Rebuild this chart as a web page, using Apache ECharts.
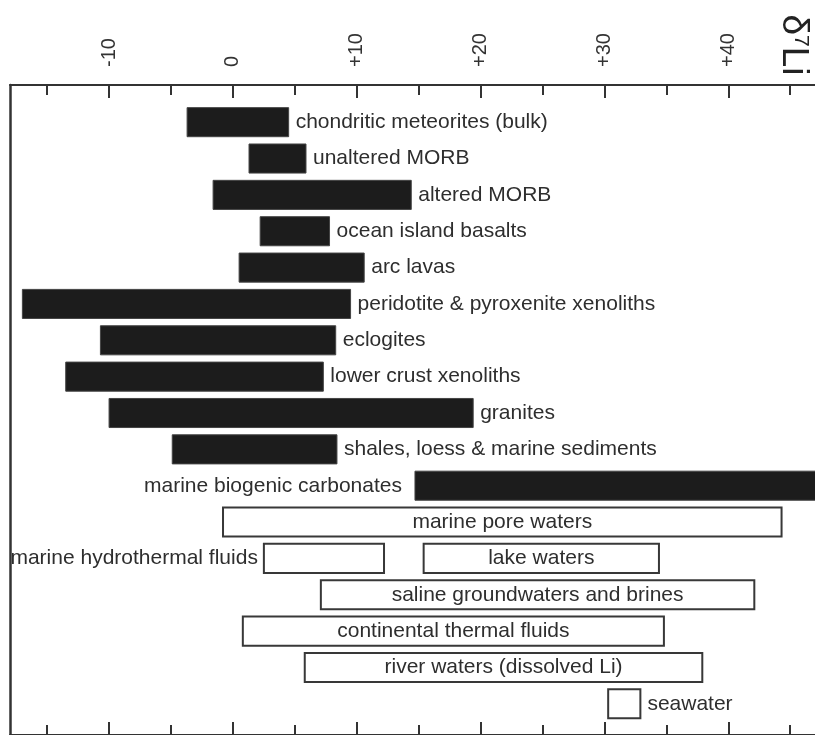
<!DOCTYPE html>
<html>
<head>
<meta charset="utf-8">
<script src="https://cdn.jsdelivr.net/npm/echarts@6/dist/echarts.min.js"></script>
<style>
  html, body { margin: 0; padding: 0; background: #fff; }
  #chart { width: 815px; height: 735px; }
</style>
</head>
<body>
<div id="chart"></div>
<script>
// delta7Li ranges of reservoirs
const labels = ['chondritic meteorites (bulk)', 'unaltered MORB', 'altered MORB', 'ocean island basalts',
    'arc lavas', 'peridotite & pyroxenite xenoliths', 'eclogites', 'lower crust xenoliths', 'granites',
    'shales, loess & marine sediments', 'marine biogenic carbonates', 'marine pore waters',
    'marine hydrothermal fluids', 'lake waters', 'saline groundwaters and brines',
    'continental thermal fluids', 'river waters (dissolved Li)', 'seawater']
const rowIndex = [0, 1, 2, 3, 4, 5, 6, 7, 8, 9, 10, 11, 12, 12, 13, 14, 15, 16]
const lowValues = [-3.7, 1.3, -1.6, 2.2, 0.5, -17.0, -10.7, -13.5, -10.0, -4.9, 14.7, -0.8, 2.5, 15.4, 7.1, 0.8, 5.8, 30.3]
const highValues = [4.5, 5.9, 14.4, 7.8, 10.6, 9.5, 8.3, 7.3, 19.4, 8.4, 50, 44.3, 12.2, 34.4, 42.1, 34.8, 37.9, 32.9]
const solid = [1, 1, 1, 1, 1, 1, 1, 1, 1, 1, 1, 0, 0, 0, 0, 0, 0, 0]
const labelSide = ['right', 'right', 'right', 'right', 'right', 'right', 'right', 'right', 'right', 'right',
    'left', 'inside', 'left', 'inside', 'inside', 'inside', 'inside', 'right']
const rowCount = 17
const majorTicks = [-10, 0, 10, 20, 30, 40]
const minorTicks = [-15, -5, 5, 15, 25, 35, 45]

const FONT = '"Liberation Sans", Arial, Helvetica, sans-serif'
const xMin = -18, xMax = 47

var chart = echarts.init(document.getElementById('chart'))

function frameAxis(grid, pos, ticks, len, withLabels, showLine) {
    return {
        type: 'value', gridIndex: grid, position: pos, min: xMin, max: xMax,
        axisLine: { show: showLine, onZero: false, lineStyle: { color: '#333', width: 2 } },
        axisTick: { show: true, inside: true, length: len, customValues: ticks, lineStyle: { color: '#333', width: 2 } },
        axisLabel: {
            show: withLabels, customValues: ticks, rotate: -90, margin: 18,
            fontFamily: FONT, fontSize: 20, color: '#333',
            formatter: v => v > 0 ? '+' + v : String(v)
        },
        splitLine: { show: false }
    }
}

function renderItem(params, api) {
    var i = params.dataIndex
    var row = api.value(0)
    var p0 = api.coord([api.value(1), row])
    var p1 = api.coord([api.value(2), row])
    var h = api.size([0, 1])[1] * 0.8
    var isSolid = solid[i] === 1
    var side = labelSide[i]
    var tx, align
    if (side === 'right') { tx = p1[0] + 7; align = 'left' }
    else if (side === 'left') { tx = p0[0] - (i === 10 ? 13 : 6); align = 'right' }
    else { tx = (p0[0] + p1[0]) / 2; align = 'center' }
    return {
        type: 'group',
        children: [{
            type: 'rect',
            shape: { x: p0[0], y: p0[1] - h / 2, width: p1[0] - p0[0], height: h },
            style: isSolid
                ? { fill: '#1c1c1c', stroke: '#444', lineWidth: 1 }
                : { fill: '#fff', stroke: '#383838', lineWidth: 2 }
        }, {
            type: 'text',
            style: {
                text: labels[i], x: tx, y: p0[1], align: align, verticalAlign: 'middle',
                fontFamily: FONT, fontSize: 21, fill: '#2e2e2e'
            }
        }]
    }
}

var seriesData = rowIndex.map((r, i) => [r, lowValues[i], highValues[i]])

var option = {
    backgroundColor: '#fff',
    animation: false,
    grid: [
        { left: 10, width: 810, top: 85, height: 653 },
        { left: 10, width: 810, top: 85, height: 653 },
        { left: 10, width: 810, top: 104, height: 618 }
    ],
    xAxis: [
        frameAxis(0, 'top', majorTicks, 13, true, true),
        frameAxis(0, 'bottom', majorTicks, 13, false, true),
        frameAxis(1, 'top', minorTicks, 10, false, false),
        frameAxis(1, 'bottom', minorTicks, 10, false, false),
        { type: 'value', gridIndex: 2, min: xMin, max: xMax, show: false }
    ],
    yAxis: [
        {
            type: 'value', gridIndex: 0, min: 0, max: 1,
            axisLine: { show: true, onZero: false, lineStyle: { color: '#333', width: 2.5 } },
            axisTick: { show: false }, axisLabel: { show: false }, splitLine: { show: false }
        },
        { type: 'value', gridIndex: 1, min: 0, max: 1, show: false },
        {
            type: 'category', gridIndex: 2, inverse: true, show: false,
            data: Array.from({ length: rowCount }, (_, k) => k)
        }
    ],
    graphic: [{
        type: 'text',
        x: 793, y: 45, rotation: -Math.PI / 2,
        style: {
            text: '{a|δ}{s|7}{a|Li}',
            align: 'center', verticalAlign: 'middle',
            rich: {
                a: { fontFamily: FONT, fontSize: 37, fill: '#222', color: '#222' },
                s: { fontFamily: FONT, fontSize: 21, fill: '#222', color: '#222', verticalAlign: 'top' }
            }
        }
    }],
    series: [{
        type: 'custom',
        xAxisIndex: 4, yAxisIndex: 2,
        renderItem: renderItem,
        encode: { x: [1, 2], y: 0 },
        data: seriesData
    }]
}

chart.setOption(option)
</script>
</body>
</html>
